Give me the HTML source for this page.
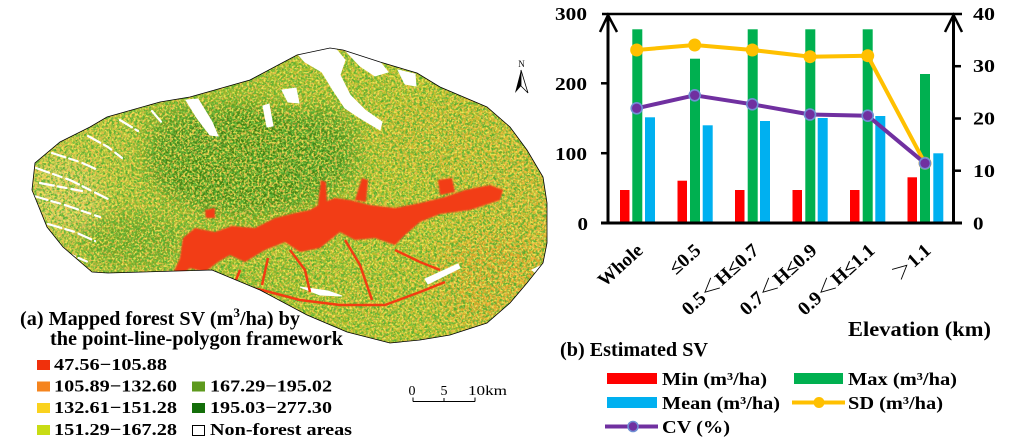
<!DOCTYPE html>
<html><head><meta charset="utf-8">
<style>
html,body{margin:0;padding:0;background:#fff;}
svg{display:block;}
text{font-family:"Liberation Serif","Noto Serif CJK SC",serif;font-weight:bold;fill:#000;}
.n{font-weight:normal;}
</style></head><body>
<svg width="1015" height="448" viewBox="0 0 1015 448" xmlns="http://www.w3.org/2000/svg">
<defs>
<clipPath id="mapclip"><path d="M32,190 L35,163 L60,142 L90,127 L107,117 L160,102 L190,97 L250,80 L297,55 L330,48 L343,50 L380,62 L417,73 L440,87 L487,107 L510,127 L527,150 L543,177 L547,203 L547,243 L543,263 L527,283 L510,303 L487,323 L450,335 L420,340 L390,343 L347,332 L307,315 L260,290 L212,270 L108,273 L92,272 L63,247 L47,227 Z"/></clipPath>
<linearGradient id="baseg" x1="0" y1="0" x2="1" y2="0">
<stop offset="0" stop-color="#d0c848"/><stop offset="0.4" stop-color="#9cb82a"/><stop offset="0.75" stop-color="#bcc02c"/><stop offset="1" stop-color="#e0b030"/>
</linearGradient>
<filter id="bl" x="-50%" y="-50%" width="200%" height="200%"><feGaussianBlur stdDeviation="9"/></filter>
<filter id="bl2" x="-20%" y="-20%" width="140%" height="140%"><feGaussianBlur stdDeviation="0.8"/></filter>
<filter id="nzG" x="0" y="0" width="100%" height="100%">
<feTurbulence type="fractalNoise" baseFrequency="0.45" numOctaves="2" seed="3"/>
<feColorMatrix type="matrix" values="0 0 0 0 0.16  0 0 0 0 0.5  0 0 0 0 0.05  6 0 0 0 -3"/>
</filter>
<filter id="nzO" x="0" y="0" width="100%" height="100%">
<feTurbulence type="fractalNoise" baseFrequency="0.4" numOctaves="2" seed="9"/>
<feColorMatrix type="matrix" values="0 0 0 0 0.96  0 0 0 0 0.5  0 0 0 0 0.08  6 0 0 0 -3.1"/>
</filter>
<filter id="nzY" x="0" y="0" width="100%" height="100%">
<feTurbulence type="fractalNoise" baseFrequency="0.5" numOctaves="2" seed="21"/>
<feColorMatrix type="matrix" values="0 0 0 0 0.96  0 0 0 0 0.86  0 0 0 0 0.1  6 0 0 0 -3.1"/>
</filter>
<filter id="nzD" x="0" y="0" width="100%" height="100%">
<feTurbulence type="fractalNoise" baseFrequency="0.35" numOctaves="2" seed="41"/>
<feColorMatrix type="matrix" values="0 0 0 0 0.08  0 0 0 0 0.4  0 0 0 0 0.03  7 0 0 0 -3.3"/>
</filter>
</defs>

<!-- ============ MAP ============ -->
<g clip-path="url(#mapclip)">
<rect x="25" y="40" width="530" height="310" fill="url(#baseg)"/>
<g filter="url(#bl)">
<ellipse cx="245" cy="160" rx="100" ry="55" fill="#2f7612" opacity="0.85"/>
<ellipse cx="320" cy="150" rx="40" ry="45" fill="#3e8418" opacity="0.75"/>
<ellipse cx="190" cy="130" rx="45" ry="25" fill="#3e8418" opacity="0.6"/>
<ellipse cx="130" cy="240" rx="55" ry="28" fill="#5a941c" opacity="0.75"/>
<ellipse cx="490" cy="280" rx="60" ry="45" fill="#e89a28" opacity="0.6"/>
<ellipse cx="430" cy="135" rx="55" ry="35" fill="#d4b028" opacity="0.5"/>
<ellipse cx="65" cy="195" rx="35" ry="35" fill="#e4d480" opacity="0.7"/>
<ellipse cx="400" cy="295" rx="60" ry="30" fill="#b8b82a" opacity="0.5"/>
</g>
<rect x="25" y="40" width="530" height="310" filter="url(#nzD)" opacity="0.9"/>
<rect x="25" y="40" width="530" height="310" filter="url(#nzG)" opacity="0.9"/>
<rect x="25" y="40" width="530" height="310" filter="url(#nzO)" opacity="0.8"/>
<rect x="25" y="40" width="530" height="310" filter="url(#nzY)" opacity="0.8"/>
<!-- white patches -->
<g fill="#fff" stroke="#fff" stroke-linecap="round">
<path d="M296,52 L335,48 L345,60 L340,75 L350,95 L365,110 L382,122 L380,130 L360,118 L345,108 L333,90 L322,72 L305,62 Z"/>
<path d="M345,50 L380,62 L388,72 L375,76 L360,66 Z"/>
<path d="M398,70 L415,74 L416,86 L405,84 Z"/>
<path d="M186,100 L198,99 L212,122 L218,136 L210,135 L197,118 Z"/>
<path d="M263,106 L269,104 L273,126 L267,127 Z"/>
<path d="M282,90 L296,88 L299,103 L288,102 Z"/>
<g stroke-width="2.2" fill="none" stroke-dasharray="14 4 9 5">
<path d="M36,168 L70,180 L110,200"/>
<path d="M34,196 L65,205 L100,217"/>
<path d="M48,224 L75,232 L95,241"/>
<path d="M52,153 L80,162 L98,170"/>
<path d="M40,183 L82,191"/>
<path d="M62,251 L88,262"/>
<path d="M88,136 L108,147 L122,158"/>
<path d="M120,120 L138,131"/>
<path d="M152,111 L163,124"/>
</g>
<path d="M300,287 L328,291 L342,296 L320,295 Z"/>
<path d="M425,279 L458,264 L460,268 L428,284 Z"/>
<path d="M532,270 L540,266 L541,277 Z"/>
</g>
<!-- red band -->
<g fill="#f23c12" filter="url(#bl2)">
<path d="M183,238 L195,228 L215,232 L232,226 L255,228 L275,218 L295,213 L310,210 L322,203 L335,198 L350,200 L370,205 L395,208 L420,203 L445,197 L465,190 L490,185 L503,190 L500,200 L470,210 L440,214 L420,222 L405,235 L395,245 L375,238 L355,240 L340,232 L320,248 L300,252 L285,242 L265,250 L245,262 L230,255 L218,262 L205,272 L190,268 L175,280 L165,290 L172,276 L180,258 Z"/>
<path d="M318,205 L321,180 L326,182 L327,205 Z"/>
<path d="M355,200 L362,178 L368,180 L366,202 Z"/>
<path d="M438,180 L452,178 L455,192 L440,195 Z"/>
<path d="M205,210 L215,208 L215,218 L206,218 Z"/>
</g>
<g fill="none" stroke="#f23c12" stroke-width="2.5" stroke-linejoin="round">
<path d="M175,288 L220,282 L262,290 L300,300 L340,305 L385,305 L420,292 L445,282"/>
<path d="M290,250 L305,270 L310,292"/>
<path d="M268,258 L262,285"/>
<path d="M345,240 L360,265 L372,300"/>
<path d="M395,250 L420,262 L440,270"/>
<path d="M240,270 L232,290"/>
</g>
</g>
<path d="M32,190 L35,163 L60,142 L90,127 L107,117 L160,102 L190,97 L250,80 L297,55 L330,48 L343,50 L380,62 L417,73 L440,87 L487,107 L510,127 L527,150 L543,177 L547,203 L547,243 L543,263 L527,283 L510,303 L487,323 L450,335 L420,340 L390,343 L347,332 L307,315 L260,290 L212,270 L108,273 L92,272 L63,247 L47,227 Z" fill="none" stroke="#000" stroke-width="0.8"/>

<!-- north arrow -->
<text class="n" x="521.5" y="67" font-size="9" text-anchor="middle">N</text>
<path d="M521,70 L515,93 L521,86 Z" fill="#000"/>
<path d="M521,70 L528,93 L521,86 Z" fill="#fff" stroke="#000" stroke-width="0.8"/>

<!-- map title -->
<text x="20" y="325" font-size="20" textLength="280" lengthAdjust="spacingAndGlyphs">(a) Mapped forest SV (m<tspan font-size="13" dy="-8">3</tspan><tspan dy="8">/ha) by</tspan></text>
<text x="50" y="345" font-size="20" textLength="293" lengthAdjust="spacingAndGlyphs">the point-line-polygon framework</text>

<!-- map legend -->
<rect x="37" y="360" width="13" height="10" fill="#f0300c"/>
<text x="54" y="370" font-size="17" textLength="113" lengthAdjust="spacingAndGlyphs">47.56−105.88</text>
<rect x="37" y="381.5" width="13" height="10" fill="#f5841e"/>
<text x="54" y="391.5" font-size="17" textLength="123" lengthAdjust="spacingAndGlyphs">105.89−132.60</text>
<rect x="37" y="403" width="13" height="10" fill="#fad21e"/>
<text x="54" y="413" font-size="17" textLength="123" lengthAdjust="spacingAndGlyphs">132.61−151.28</text>
<rect x="37" y="425" width="13" height="10" fill="#c8dc14"/>
<text x="54" y="435" font-size="17" textLength="123" lengthAdjust="spacingAndGlyphs">151.29−167.28</text>
<rect x="192" y="381.5" width="13" height="10" fill="#5e9a1e"/>
<text x="210" y="391.5" font-size="17" textLength="122" lengthAdjust="spacingAndGlyphs">167.29−195.02</text>
<rect x="192" y="403" width="13" height="10" fill="#146e0a"/>
<text x="210" y="413" font-size="17" textLength="122" lengthAdjust="spacingAndGlyphs">195.03−277.30</text>
<rect x="192.5" y="425.5" width="12" height="10" fill="#fff" stroke="#000" stroke-width="1"/>
<text x="210" y="435" font-size="17" textLength="142" lengthAdjust="spacingAndGlyphs">Non-forest areas</text>

<!-- scale bar -->
<text class="n" x="412" y="395" font-size="14" text-anchor="middle">0</text>
<text class="n" x="444" y="395" font-size="14" text-anchor="middle">5</text>
<text class="n" x="468" y="395" font-size="14" textLength="39" lengthAdjust="spacingAndGlyphs">10km</text>
<path d="M413,401.5 H475 M413,401.5 V397.5 M444,401.5 V398 M475,401.5 V397.5" stroke="#000" stroke-width="1" fill="none"/>

<!-- ============ CHART ============ -->
<g fill="#ff0000">
<rect x="620" y="190" width="9.5" height="32"/>
<rect x="677.5" y="180.7" width="9.5" height="41.3"/>
<rect x="735" y="190" width="9.5" height="32"/>
<rect x="792.5" y="190" width="9.5" height="32"/>
<rect x="850" y="190" width="9.5" height="32"/>
<rect x="907.5" y="177.3" width="9.5" height="44.7"/>
</g>
<g fill="#00b050">
<rect x="632.3" y="29.3" width="10" height="192.7"/>
<rect x="690" y="58.7" width="10" height="163.3"/>
<rect x="747.7" y="29.3" width="10" height="192.7"/>
<rect x="805.3" y="29.3" width="10" height="192.7"/>
<rect x="862.7" y="29.3" width="10" height="192.7"/>
<rect x="920" y="74" width="10" height="148"/>
</g>
<g fill="#00b0f0">
<rect x="645" y="117.3" width="10" height="104.7"/>
<rect x="702.7" y="125.3" width="10" height="96.7"/>
<rect x="760" y="121" width="10" height="101"/>
<rect x="817.7" y="118" width="10" height="104"/>
<rect x="875.3" y="116" width="10" height="106"/>
<rect x="933.3" y="153.3" width="10" height="68.7"/>
</g>
<polyline points="636.7,50 694.7,45 752.3,50 810,56.7 867.7,55.7 925,163.3" fill="none" stroke="#ffc000" stroke-width="4" stroke-linejoin="round"/>
<g fill="#ffc000">
<circle cx="636.7" cy="50" r="6.5"/><circle cx="694.7" cy="45" r="6.5"/><circle cx="752.3" cy="50" r="6.5"/>
<circle cx="810" cy="56.7" r="6.5"/><circle cx="867.7" cy="55.7" r="6.5"/><circle cx="925" cy="163.3" r="6.5"/>
</g>
<polyline points="636.7,108.3 694.7,95.3 752.3,104.3 810,114.5 867.7,115.7 925,163.3" fill="none" stroke="#7030a0" stroke-width="4" stroke-linejoin="round"/>
<g fill="#7030a0" stroke="#6f8fd4" stroke-width="1.6">
<circle cx="636.7" cy="108.3" r="5.5"/><circle cx="694.7" cy="95.3" r="5.5"/><circle cx="752.3" cy="104.3" r="5.5"/>
<circle cx="810" cy="114.5" r="5.5"/><circle cx="867.7" cy="115.7" r="5.5"/><circle cx="925" cy="163.3" r="5.5"/>
</g>

<g stroke="#000" fill="none">
<line x1="602" y1="14" x2="962" y2="14" stroke-width="2.5"/>
<line x1="608" y1="14" x2="608" y2="224.5" stroke-width="3"/>
<line x1="953.5" y1="14" x2="953.5" y2="224.5" stroke-width="3"/>
<line x1="601" y1="223" x2="962" y2="223" stroke-width="3"/>
<polyline points="600,32 608,15 617,32" stroke-width="2.5"/>
<polyline points="945,32 953.5,15 962,32" stroke-width="2.5"/>
<line x1="601" y1="83.3" x2="608" y2="83.3" stroke-width="2.5"/>
<line x1="601" y1="153.2" x2="608" y2="153.2" stroke-width="2.5"/>
<line x1="953" y1="66.2" x2="961" y2="66.2" stroke-width="2.5"/>
<line x1="953" y1="118.5" x2="961" y2="118.5" stroke-width="2.5"/>
<line x1="953" y1="170.7" x2="961" y2="170.7" stroke-width="2.5"/>
</g>
<g font-size="18">
<text x="555" y="20" textLength="32" lengthAdjust="spacingAndGlyphs">300</text>
<text x="555" y="90" textLength="32" lengthAdjust="spacingAndGlyphs">200</text>
<text x="555" y="160" textLength="32" lengthAdjust="spacingAndGlyphs">100</text>
<text x="577.5" y="230" textLength="10.5" lengthAdjust="spacingAndGlyphs">0</text>
<text x="973" y="20" textLength="22" lengthAdjust="spacingAndGlyphs">40</text>
<text x="973" y="72" textLength="22" lengthAdjust="spacingAndGlyphs">30</text>
<text x="973" y="124.5" textLength="22" lengthAdjust="spacingAndGlyphs">20</text>
<text x="973" y="177" textLength="22" lengthAdjust="spacingAndGlyphs">10</text>
<text x="973" y="229.5" textLength="10.5" lengthAdjust="spacingAndGlyphs">0</text>
</g>
<g font-size="19" text-anchor="end">
<text transform="translate(644,252) rotate(-42)" textLength="53" lengthAdjust="spacingAndGlyphs">Whole</text>
<text transform="translate(702,252) rotate(-42)" textLength="35" lengthAdjust="spacingAndGlyphs">≤0.5</text>
<text transform="translate(760,252) rotate(-42)" textLength="96" lengthAdjust="spacingAndGlyphs">0.5＜H≤0.7</text>
<text transform="translate(818,252) rotate(-42)" textLength="96" lengthAdjust="spacingAndGlyphs">0.7＜H≤0.9</text>
<text transform="translate(876,252) rotate(-42)" textLength="96" lengthAdjust="spacingAndGlyphs">0.9＜H≤1.1</text>
<text transform="translate(932,252) rotate(-42)" textLength="44" lengthAdjust="spacingAndGlyphs">＞1.1</text>
</g>
<text x="848" y="336" font-size="21" textLength="143" lengthAdjust="spacingAndGlyphs">Elevation (km)</text>
<text x="560" y="356" font-size="20" textLength="148" lengthAdjust="spacingAndGlyphs">(b) Estimated SV</text>

<rect x="607" y="373" width="50" height="11" fill="#ff0000"/>
<text x="662" y="385" font-size="18" textLength="105" lengthAdjust="spacingAndGlyphs">Min (m³/ha)</text>
<rect x="794" y="373" width="49" height="11" fill="#00b050"/>
<text x="848" y="385" font-size="18" textLength="109" lengthAdjust="spacingAndGlyphs">Max (m³/ha)</text>
<rect x="607" y="397" width="50" height="11" fill="#00b0f0"/>
<text x="662" y="409" font-size="18" textLength="118" lengthAdjust="spacingAndGlyphs">Mean (m³/ha)</text>
<line x1="792" y1="402.5" x2="845" y2="402.5" stroke="#ffc000" stroke-width="4"/>
<circle cx="819" cy="402.5" r="5.5" fill="#ffc000"/>
<text x="848" y="409" font-size="18" textLength="95" lengthAdjust="spacingAndGlyphs">SD (m³/ha)</text>
<line x1="605" y1="426.5" x2="658" y2="426.5" stroke="#7030a0" stroke-width="4"/>
<circle cx="633" cy="426.5" r="5" fill="#7030a0" stroke="#6f8fd4" stroke-width="1.6"/>
<text x="662" y="433" font-size="18" textLength="68" lengthAdjust="spacingAndGlyphs">CV (%)</text>
</svg>
</body></html>
